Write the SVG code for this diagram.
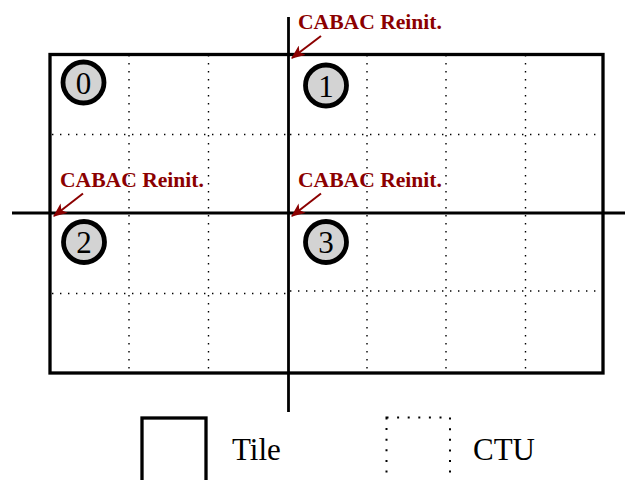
<svg xmlns="http://www.w3.org/2000/svg" width="625" height="480" viewBox="0 0 625 480">
<style>
.tile{fill:none;stroke:#000;stroke-width:3.3}
.tl{stroke:#000;stroke-width:2.8;fill:none}
.ctu{stroke:#000;stroke-width:1.4;stroke-dasharray:1.4 6.6;fill:none}
.lab{font-family:"Liberation Serif",serif;font-weight:bold;font-size:21.6px;fill:#8b0000}
.arr{stroke:#8b0000;stroke-width:2;fill:none}
.num{fill:#d3d3d3;stroke:#000;stroke-width:4.8}
.dig{font-family:"Liberation Serif",serif;font-size:31px;fill:#000;text-anchor:middle}
.leg{font-family:"Liberation Serif",serif;font-size:31px;fill:#000}
</style>
<defs>
<marker id="ah" markerUnits="userSpaceOnUse" markerWidth="14" markerHeight="12" refX="11" refY="5" orient="auto" viewBox="0 0 12 10">
<path d="M0,0 L12,5 L0,10 L3,5 Z" fill="#8b0000"/>
</marker>
</defs>
<g id="ctu-grid">
<line class="ctu" x1="129" y1="55" x2="129" y2="372"/>
<line class="ctu" x1="208.5" y1="55" x2="208.5" y2="372"/>
<line class="ctu" x1="367" y1="55" x2="367" y2="372"/>
<line class="ctu" x1="446" y1="55" x2="446" y2="372"/>
<line class="ctu" x1="525.5" y1="55" x2="525.5" y2="372"/>
<line class="ctu" x1="52" y1="134.5" x2="288" y2="134.5"/>
<line class="ctu" x1="290" y1="134.5" x2="601" y2="134.5"/>
<line class="ctu" x1="52" y1="293.5" x2="288" y2="293.5"/>
<line class="ctu" x1="290" y1="291" x2="601" y2="291"/>
</g>
<g id="tiles">
<rect class="tile" x="50" y="54.5" width="553" height="318.5"/>
<line class="tl" x1="288.5" y1="17" x2="288.5" y2="412"/>
<line class="tl" x1="12" y1="213" x2="625" y2="213"/>
</g>
<g id="connectors">
<line class="arr" x1="321" y1="36" x2="292" y2="58" marker-end="url(#ah)"/>
<line class="arr" x1="83" y1="193.5" x2="54" y2="216" marker-end="url(#ah)"/>
<line class="arr" x1="321" y1="193.5" x2="292" y2="216" marker-end="url(#ah)"/>
</g>
<g id="label-top"><text class="lab" x="298" y="29">CABAC Reinit.</text></g>
<g id="label-left"><text class="lab" x="60" y="187">CABAC Reinit.</text></g>
<g id="label-mid"><text class="lab" x="298" y="187">CABAC Reinit.</text></g>
<g id="n0"><circle class="num" cx="83.5" cy="82.5" r="20.5"/><text class="dig" x="83.5" y="93.5">0</text></g>
<g id="n1"><circle class="num" cx="326" cy="85.5" r="20.5"/><text class="dig" x="326" y="96.5">1</text></g>
<g id="n2"><circle class="num" cx="84" cy="242" r="20.5"/><text class="dig" x="84" y="253">2</text></g>
<g id="n3"><circle class="num" cx="326" cy="242" r="20.5"/><text class="dig" x="326" y="253">3</text></g>
<g id="legend-tile">
<rect class="tile" x="142" y="418" width="64" height="70"/>
<text class="leg" x="232" y="460">Tile</text>
</g>
<g id="legend-ctu">
<rect x="386.5" y="417.5" width="63.5" height="70" fill="none" stroke="#000" stroke-width="2" stroke-dasharray="2 8.6"/>
<text class="leg" x="473" y="460">CTU</text>
</g>
</svg>
